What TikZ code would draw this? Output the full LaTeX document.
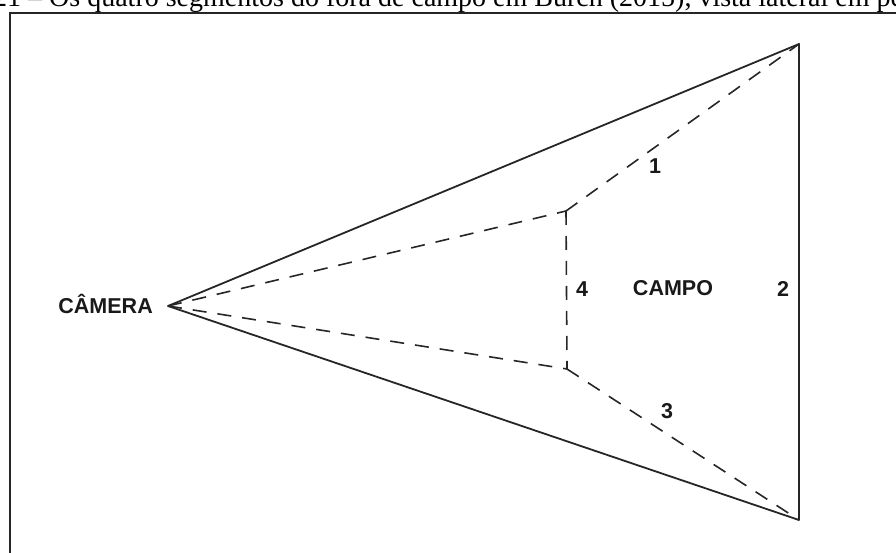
\documentclass[tikz,border=0pt]{standalone}
\usepackage{fontspec}
\setmainfont{Liberation Serif}
\setsansfont{Liberation Sans}
\usetikzlibrary{positioning}

\begin{document}
\begin{tikzpicture}[
  x=1pt, y=1pt,
  edge/.style={line width=1.8pt, draw=black!85, line cap=round, line join=round},
  hidden/.style={line width=1.6pt, draw=black!85, dash pattern=on 14pt off 11pt},
  lbl/.style={font=\sffamily\bfseries\fontsize{21.5}{24}\selectfont, text=black!90, inner sep=0pt}
]
\clip (0,0) rectangle (896,552);
% caption, cut by the top of the page
\node[anchor=base west, font=\fontsize{28}{30}\selectfont, inner sep=0pt] (cap) at (-21,545) {121 -- Os quatro segmentos do fora de campo em Burch (2015), vista lateral em perspectiva};
\draw[line width=2pt, draw=black!85] (10,-20) rectangle (920,539);
\coordinate (cam) at (168,246);
\coordinate (tr) at (799,508);
\coordinate (br) at (799,32);
\coordinate (it) at (566,341);
\coordinate (ib) at (567,183);
\draw[edge] (br) -- (cam) -- (tr) -- (br);
\draw[hidden] (cam) -- (it);
\draw[hidden] (cam) -- (ib);
\draw[hidden] (it) -- (tr);
\draw[hidden] (ib) -- (br);
\draw[hidden] (it) -- (ib);
\node[lbl, left=15pt of cam, yshift=2pt] (camlbl) {CÂMERA};
\node[lbl] (campo) at (673,264) {CAMPO};
\node[lbl] (s1) at (655,386) {1};
\node[lbl] (s2) at (783,263) {2};
\node[lbl] (s3) at (667,141) {3};
\node[lbl] (s4) at (582,263) {4};
\end{tikzpicture}
\end{document}
